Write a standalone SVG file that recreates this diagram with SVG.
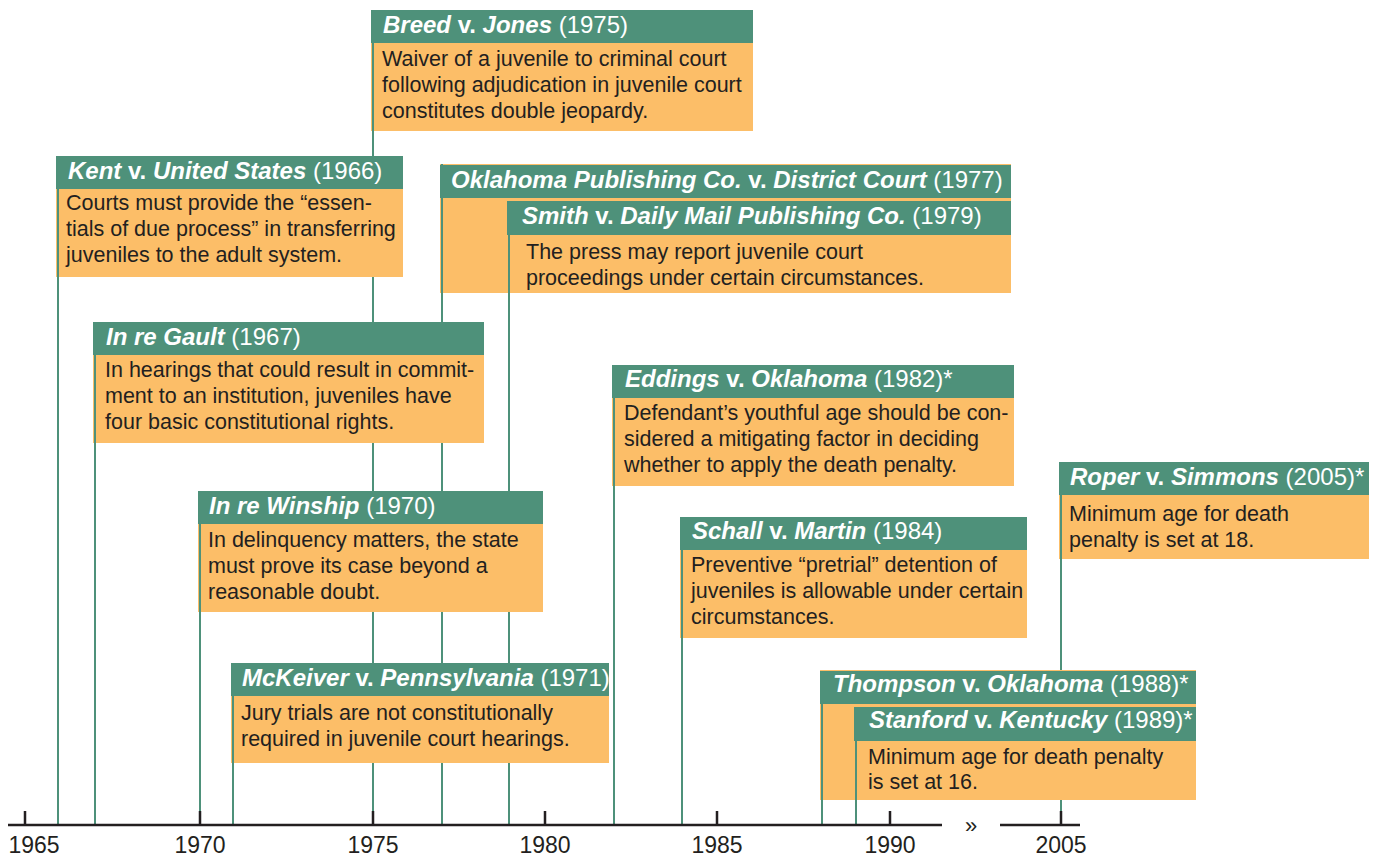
<svg xmlns="http://www.w3.org/2000/svg" width="1375" height="856" viewBox="0 0 1375 856">
<style>
.hd{fill:#4e917a}
.bd{fill:#fcbe68}
.ln{stroke:#4e917a;stroke-width:2;fill:none}
.ht{font-family:"Liberation Sans",Arial,sans-serif;font-size:24px;fill:#ffffff}
.bi{font-weight:bold;font-style:italic}
.b{font-weight:bold}
.tx{font-family:"Liberation Sans",Arial,sans-serif;font-size:21.5px;fill:#231f20}
.ax{stroke:#231f20;stroke-width:2.5;fill:none}
.yr{font-family:"Liberation Sans",Arial,sans-serif;font-size:23px;fill:#231f20;text-anchor:middle}
</style>
<rect width="1375" height="856" fill="#ffffff"/>
<g id="connectors">
<line class="ln" x1="58" y1="156" x2="58" y2="825"/>
<line class="ln" x1="95" y1="322" x2="95" y2="825"/>
<line class="ln" x1="200" y1="491" x2="200" y2="825"/>
<line class="ln" x1="233" y1="663" x2="233" y2="825"/>
<line class="ln" x1="373" y1="10" x2="373" y2="825"/>
<line class="ln" x1="442" y1="164" x2="442" y2="825"/>
<line class="ln" x1="509" y1="201" x2="509" y2="825"/>
<line class="ln" x1="614" y1="365" x2="614" y2="825"/>
<line class="ln" x1="682" y1="517" x2="682" y2="825"/>
<line class="ln" x1="822" y1="671" x2="822" y2="825"/>
<line class="ln" x1="856" y1="707" x2="856" y2="825"/>
<line class="ln" x1="1061" y1="462" x2="1061" y2="825"/>
</g>
<g id="axis">
<line class="ax" x1="8" y1="825" x2="942" y2="825"/>
<line class="ax" x1="1000" y1="825" x2="1080" y2="825"/>
<path class="ax" d="M25 811V825M200 811V825M373 811V825M545 811V825M717 811V825M890 811V825M1061 811V825"/>
<text class="yr" x="34" y="853">1965</text>
<text class="yr" x="200" y="853">1970</text>
<text class="yr" x="373" y="853">1975</text>
<text class="yr" x="545" y="853">1980</text>
<text class="yr" x="717" y="853">1985</text>
<text class="yr" x="890" y="853">1990</text>
<text class="yr" x="1061" y="853">2005</text>
<text class="yr" x="971" y="833" style="font-size:22px">»</text>
</g>
<g id="kent">
<rect class="bd" x="56" y="188" width="347" height="89"/>
<rect class="hd" x="56" y="156" width="347" height="33"/>
<line class="ln" x1="58" y1="156" x2="58" y2="277"/>
<text class="ht" x="68" y="179"><tspan class="bi">Kent</tspan><tspan class="b"> v. </tspan><tspan class="bi">United States</tspan> (1966)</text>
<text class="tx" x="66" y="210">Courts must provide the “essen-</text>
<text class="tx" x="66" y="236">tials of due process” in transferring</text>
<text class="tx" x="66" y="262">juveniles to the adult system.</text>
</g>
<g id="gault">
<rect class="bd" x="93" y="354" width="391" height="89"/>
<rect class="hd" x="93" y="322" width="391" height="33"/>
<line class="ln" x1="95" y1="322" x2="95" y2="443"/>
<text class="ht" x="106" y="345"><tspan class="bi">In re Gault</tspan> (1967)</text>
<text class="tx" x="105" y="377">In hearings that could result in commit-</text>
<text class="tx" x="105" y="403">ment to an institution, juveniles have</text>
<text class="tx" x="105" y="429">four basic constitutional rights.</text>
</g>
<g id="winship">
<rect class="bd" x="198" y="523" width="345" height="89"/>
<rect class="hd" x="198" y="491" width="345" height="33"/>
<line class="ln" x1="200" y1="491" x2="200" y2="612"/>
<text class="ht" x="209" y="514"><tspan class="bi">In re Winship</tspan> (1970)</text>
<text class="tx" x="208" y="547">In delinquency matters, the state</text>
<text class="tx" x="208" y="573">must prove its case beyond a</text>
<text class="tx" x="208" y="599">reasonable doubt.</text>
</g>
<g id="mckeiver">
<rect class="bd" x="231" y="695" width="378" height="68"/>
<rect class="hd" x="231" y="663" width="378" height="33"/>
<line class="ln" x1="233" y1="663" x2="233" y2="763"/>
<text class="ht" x="242" y="686"><tspan class="bi">McKeiver</tspan><tspan class="b"> v. </tspan><tspan class="bi">Pennsylvania</tspan> (1971)</text>
<text class="tx" x="241" y="720">Jury trials are not constitutionally</text>
<text class="tx" x="241" y="746">required in juvenile court hearings.</text>
</g>
<g id="breed">
<rect class="bd" x="371" y="42" width="382" height="89"/>
<rect class="hd" x="371" y="10" width="382" height="33"/>
<line class="ln" x1="373" y1="10" x2="373" y2="131"/>
<text class="ht" x="383" y="33"><tspan class="bi">Breed</tspan><tspan class="b"> v. </tspan><tspan class="bi">Jones</tspan> (1975)</text>
<text class="tx" x="382" y="66">Waiver of a juvenile to criminal court</text>
<text class="tx" x="382" y="92">following adjudication in juvenile court</text>
<text class="tx" x="382" y="118">constitutes double jeopardy.</text>
</g>
<g id="oklahoma-publishing">
<rect class="bd" x="440" y="164" width="571" height="129"/>
<rect class="hd" x="440" y="165" width="571" height="33"/>
<line class="ln" x1="442" y1="164" x2="442" y2="293"/>
<text class="ht" x="451" y="188"><tspan class="bi">Oklahoma Publishing Co.</tspan><tspan class="b"> v. </tspan><tspan class="bi">District Court</tspan> (1977)</text>
</g>
<g id="smith">
<rect class="bd" x="507" y="234" width="504" height="59"/>
<rect class="hd" x="507" y="201" width="504" height="34"/>
<line class="ln" x1="509" y1="201" x2="509" y2="293"/>
<text class="ht" x="522" y="224"><tspan class="bi">Smith</tspan><tspan class="b"> v. </tspan><tspan class="bi">Daily Mail Publishing Co.</tspan> (1979)</text>
<text class="tx" x="526" y="259">The press may report juvenile court</text>
<text class="tx" x="526" y="285">proceedings under certain circumstances.</text>
</g>
<g id="eddings">
<rect class="bd" x="612" y="397" width="402" height="89"/>
<rect class="hd" x="612" y="365" width="402" height="33"/>
<line class="ln" x1="614" y1="365" x2="614" y2="486"/>
<text class="ht" x="625" y="387"><tspan class="bi">Eddings</tspan><tspan class="b"> v. </tspan><tspan class="bi">Oklahoma</tspan> (1982)*</text>
<text class="tx" x="624" y="420">Defendant’s youthful age should be con-</text>
<text class="tx" x="624" y="446">sidered a mitigating factor in deciding</text>
<text class="tx" x="624" y="472">whether to apply the death penalty.</text>
</g>
<g id="schall">
<rect class="bd" x="680" y="549" width="347" height="89"/>
<rect class="hd" x="680" y="517" width="347" height="33"/>
<line class="ln" x1="682" y1="517" x2="682" y2="638"/>
<text class="ht" x="692" y="539"><tspan class="bi">Schall</tspan><tspan class="b"> v. </tspan><tspan class="bi">Martin</tspan> (1984)</text>
<text class="tx" x="691" y="572">Preventive “pretrial” detention of</text>
<text class="tx" x="691" y="598">juveniles is allowable under certain</text>
<text class="tx" x="691" y="624">circumstances.</text>
</g>
<g id="thompson">
<rect class="bd" x="820" y="670" width="376" height="130"/>
<rect class="hd" x="820" y="671" width="376" height="33"/>
<line class="ln" x1="822" y1="671" x2="822" y2="800"/>
<text class="ht" x="833" y="692"><tspan class="bi">Thompson</tspan><tspan class="b"> v. </tspan><tspan class="bi">Oklahoma</tspan> (1988)*</text>
</g>
<g id="stanford">
<rect class="bd" x="854" y="740" width="342" height="60"/>
<rect class="hd" x="854" y="707" width="342" height="34"/>
<line class="ln" x1="856" y1="707" x2="856" y2="800"/>
<text class="ht" x="869" y="728"><tspan class="bi">Stanford</tspan><tspan class="b"> v. </tspan><tspan class="bi">Kentucky</tspan> (1989)*</text>
<text class="tx" x="868" y="764">Minimum age for death penalty</text>
<text class="tx" x="868" y="789">is set at 16.</text>
</g>
<g id="roper">
<rect class="bd" x="1059" y="494" width="310" height="65"/>
<rect class="hd" x="1059" y="462" width="310" height="33"/>
<line class="ln" x1="1061" y1="462" x2="1061" y2="559"/>
<text class="ht" x="1070" y="485"><tspan class="bi">Roper</tspan><tspan class="b"> v. </tspan><tspan class="bi">Simmons</tspan> (2005)*</text>
<text class="tx" x="1069" y="521">Minimum age for death</text>
<text class="tx" x="1069" y="547">penalty is set at 18.</text>
</g>
</svg>
